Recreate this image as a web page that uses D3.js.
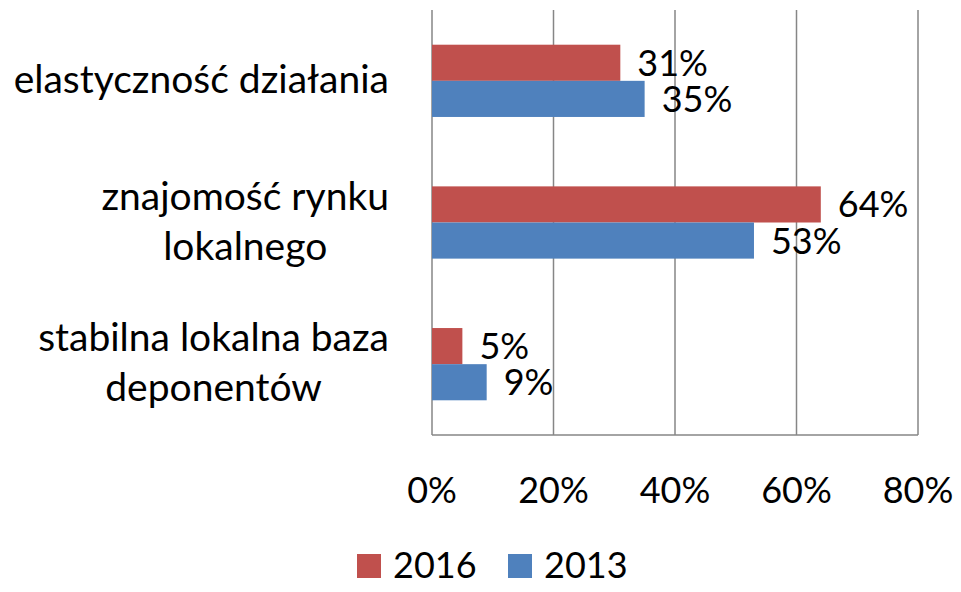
<!DOCTYPE html>
<html>
<head>
<meta charset="utf-8">
<script src="https://cdn.jsdelivr.net/npm/d3@7"></script>
<style>
  body { margin: 0; background: #fff; }
  svg text { font-family: Lato, "Open Sans", sans-serif; fill: #000; }
</style>
</head>
<body>
<svg id="canvas" width="961" height="592"></svg>
<script>
const categories = [
    ["elastyczność działania"],
    ["znajomość rynku", "lokalnego"],
    ["stabilna lokalna baza", "deponentów"]
];
const seriesNames = ["2016", "2013"];
const values2016 = [31, 64, 5];
const values2013 = [35, 53, 9];
const tickValues = [0, 20, 40, 60, 80];
const colors = ["#C0504D", "#4F81BD"];

const svg = d3.select("#canvas");
const fontSize = 36;
const catFontSize = 39;

const x = d3.scaleLinear().domain([0, 80]).range([432, 918]);
const y = d3.scaleBand()
    .domain(d3.range(categories.length))
    .range([10, 435])
    .paddingInner(0.49)
    .paddingOuter(0.245);
const ySeries = d3.scaleBand()
    .domain(seriesNames)
    .range([0, y.bandwidth()]);

// gridlines
svg.append("g")
    .selectAll("line")
    .data(tickValues)
    .enter()
    .append("line")
    .attr("x1", d => x(d))
    .attr("x2", d => x(d))
    .attr("y1", 10)
    .attr("y2", 435)
    .attr("stroke", "#868686")
    .attr("stroke-width", 1.5);

// bottom axis line
svg.append("line")
    .attr("x1", x(0))
    .attr("x2", x(80))
    .attr("y1", 435)
    .attr("y2", 435)
    .attr("stroke", "#868686")
    .attr("stroke-width", 1.5);

// tick labels
svg.append("g")
    .selectAll("text")
    .data(tickValues)
    .enter()
    .append("text")
    .attr("x", d => x(d))
    .attr("y", 503)
    .attr("text-anchor", "middle")
    .attr("font-size", fontSize)
    .text(d => d + "%");

// bars
const series = [values2016, values2013];
series.forEach((vals, si) => {
    const g = svg.append("g");
    g.selectAll("rect")
        .data(vals)
        .enter()
        .append("rect")
        .attr("x", x(0))
        .attr("y", (d, i) => y(i) + ySeries(seriesNames[si]))
        .attr("width", d => x(d) - x(0))
        .attr("height", ySeries.bandwidth())
        .attr("fill", colors[si]);

    g.selectAll("text")
        .data(vals)
        .enter()
        .append("text")
        .attr("x", d => x(d) + 17)
        .attr("y", (d, i) => y(i) + ySeries(seriesNames[si]) + ySeries.bandwidth() / 2 + 13)
        .attr("font-size", fontSize)
        .text(d => d + "%");
});

// category labels: block right-aligned, lines centred within block
const labelRight = 389;
categories.forEach((lines, i) => {
    const cy = y(i) + y.bandwidth() / 2;
    const g = svg.append("g");
    const texts = lines.map((line, li) => g.append("text")
        .attr("y", cy + 12 + (li - (lines.length - 1) / 2) * 50)
        .attr("font-size", catFontSize)
        .attr("text-anchor", "middle")
        .text(line));
    const w = d3.max(texts, t => t.node().getComputedTextLength());
    texts.forEach(t => t.attr("x", labelRight - w / 2));
});

// legend
const legend = svg.append("g");
const legendX = [357, 508];
seriesNames.forEach((name, i) => {
    legend.append("rect")
        .attr("x", legendX[i])
        .attr("y", 554)
        .attr("width", 24)
        .attr("height", 24)
        .attr("fill", colors[i]);
    legend.append("text")
        .attr("x", legendX[i] + 36)
        .attr("y", 578)
        .attr("font-size", fontSize)
        .text(name);
});
</script>
</body>
</html>
